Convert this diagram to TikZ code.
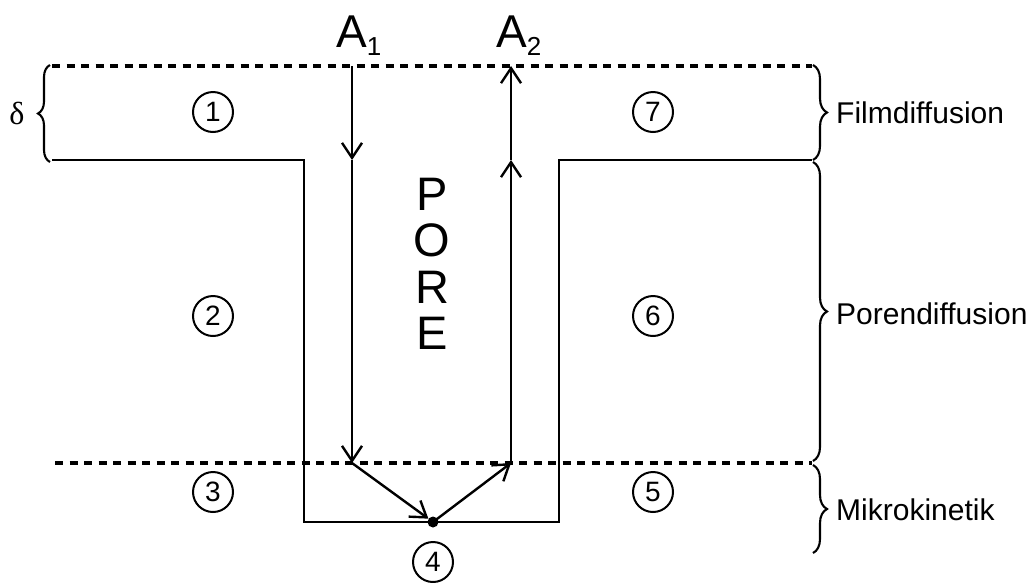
\documentclass[tikz,border=0pt]{standalone}
\usepackage{fontspec}
\setmainfont{Liberation Sans}
\newfontfamily\serifdelta{Liberation Serif}
\usetikzlibrary{arrows.meta,decorations.pathreplacing}
\tikzset{
  wall/.style={line width=2.6pt, line join=miter},
  bound/.style={line width=3.2pt, dash pattern=on 8pt off 6.5pt},
  flow/.style={line width=2.4pt, -{Straight Barb[length=15pt,width=20pt,line width=2.4pt]}},
  num/.style={circle, draw, line width=2pt, minimum size=40pt, inner sep=0pt, font=\fontsize{28}{28}\selectfont},
  brc/.style={line width=2.1pt, decorate, decoration={brace, amplitude=14pt}},
  lbl/.style={anchor=west, inner sep=0pt, font=\fontsize{30}{30}\selectfont},
  big/.style={inner sep=0pt, font=\fontsize{46}{46}\selectfont}
}
\begin{document}
\begin{tikzpicture}[x=1pt,y=-1pt]
\useasboundingbox (0,0) rectangle (1032,582);
% boundary lines
\draw[bound] (52,66) -- (812,66);
\draw[bound] (55,463) -- (812,463);
\draw[wall] (52,160) -- (304,160) -- (304,522) -- (559,522) -- (559,160) -- (812,160);
% flow coordinates
\coordinate (a1top) at (352,66);
\coordinate (a1mid) at (352,160);
\coordinate (a1bot) at (352,463);
\coordinate (a2bot) at (511,463);
\coordinate (a2mid) at (511,160);
\coordinate (a2top) at (511,66);
\node[circle, fill, inner sep=0pt, minimum size=11pt] (dot) at (433,522) {};
\draw[flow] (a1top) -- (a1mid);
\draw[flow] (a1mid) -- (a1bot);
\draw[flow] (a1bot) -- (dot);
\draw[flow] (dot.center) -- (a2bot);
\draw[flow] (a2bot) -- (a2mid);
\draw[flow] (a2mid) -- (a2top);
% labels A1 A2
\node[big, anchor=base west] (A1) at (336,47) {A\raisebox{-8pt}{\fontsize{26}{26}\selectfont 1}};
\node[big, anchor=base west] (A2) at (496,47) {A\raisebox{-8pt}{\fontsize{26}{26}\selectfont 2}};
% PORE
\node[inner sep=0pt, align=center, font=\fontsize{47}{46.5}\selectfont] (pore) at (432,264) {P\\O\\R\\E};
% circled numbers
\node[num] (n1) at (213,112) {1};
\node[num] (n2) at (213,316) {2};
\node[num] (n3) at (213,492) {3};
\node[num] (n4) at (433,562) {4};
\node[num] (n5) at (653,492) {5};
\node[num] (n6) at (653,316) {6};
\node[num] (n7) at (653,112) {7};
% braces
\coordinate (lb1) at (50,162);
\coordinate (lb2) at (50,65);
\draw[brc, decoration={amplitude=12pt}] (lb1) -- (lb2);
\node[inner sep=0pt, font=\serifdelta\fontsize{32}{32}\selectfont] (delta) at (17,113) {δ};
\coordinate (rb1) at (813,65);
\coordinate (rb2) at (813,160);
\coordinate (rb3) at (813,162);
\coordinate (rb4) at (813,461);
\coordinate (rb5) at (813,465);
\coordinate (rb6) at (813,553);
\draw[brc] (rb1) -- (rb2);
\draw[brc] (rb3) -- (rb4);
\draw[brc] (rb5) -- (rb6);
\node[lbl] (film) at (836,113) {Filmdiffusion};
\node[lbl] (pord) at (836,314) {Porendiffusion};
\node[lbl] (mikro) at (836,510) {Mikrokinetik};
\end{tikzpicture}
\end{document}
